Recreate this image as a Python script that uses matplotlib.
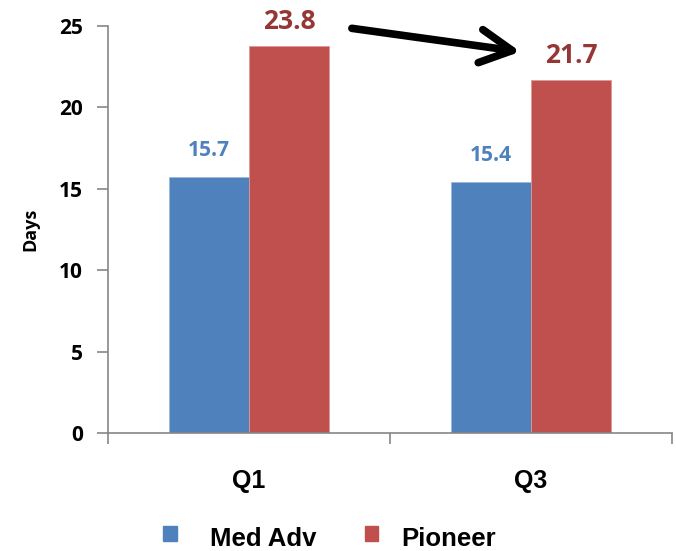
import numpy as np
import matplotlib.pyplot as plt

# quarterly average days per program
quarters = ["Q1", "Q3"]
med_adv = [15.7, 15.4]
pioneer = [23.8, 21.7]
series_names = ["Med Adv", "Pioneer"]
y_ticks = [0, 5, 10, 15, 20, 25]

blue = "#4F81BD"
red = "#C0504D"
blue_lbl = "#4F81BD"
red_lbl = "#953735"
axis_gray = "#868686"
num_font = "Open Sans"

fig = plt.figure(figsize=(6.76, 5.51), dpi=100)
ax = fig.add_axes([108 / 676, (551 - 433) / 551, (672 - 108) / 676, (433 - 26) / 551])

x = np.arange(len(quarters))
w = 80 / 282

ax.bar(x - w / 2, med_adv, w, color=blue, edgecolor="#9bb7dc", linewidth=0.6)
ax.bar(x + w / 2, pioneer, w, color=red, edgecolor="#dc9896", linewidth=0.6)

# value labels above bars
for xi, v in zip(x, med_adv):
    ax.text(xi - w / 2, v + 1.0, f"{v:.1f}", ha="center", va="bottom",
            color=blue_lbl, fontsize=15, fontweight="bold", family=num_font)
for xi, v in zip(x, pioneer):
    ax.text(xi + w / 2, v + 0.65, f"{v:.1f}", ha="center", va="bottom",
            color=red_lbl, fontsize=19, fontweight="bold", family=num_font)

ax.set_xlim(-0.5, len(quarters) - 0.5)
ax.set_ylim(0, 25)
ax.set_yticks(y_ticks)
ax.set_yticklabels([str(t) for t in y_ticks], fontsize=15, fontweight="bold", family=num_font)
ax.set_ylabel("Days", fontsize=13, fontweight="bold", family=num_font, labelpad=14)

# category boundaries carry the ticks, labels sit in the middle
ax.set_xticks(np.arange(len(quarters) + 1) - 0.5)
ax.set_xticklabels([])
ax.set_xticks(x, minor=True)
ax.set_xticklabels(quarters, minor=True, fontsize=18, fontweight="bold",
                   family="Liberation Sans")
ax.tick_params(axis="x", which="minor", length=0, pad=26)
ax.tick_params(axis="x", which="major", length=8, color=axis_gray, width=1.2)
ax.tick_params(axis="y", length=8, color=axis_gray, width=1.2, pad=10)

for s in ["top", "right"]:
    ax.spines[s].set_visible(False)
for s in ["left", "bottom"]:
    ax.spines[s].set_color(axis_gray)
    ax.spines[s].set_linewidth(1.2)

# arrow showing the drop from Q1 to Q3
ax.annotate("", xy=(0.972, 23.4), xytext=(0.355, 24.88),
            arrowprops=dict(arrowstyle="->, head_length=1.15, head_width=0.6",
                            mutation_scale=20, lw=5.5, color="black",
                            capstyle="round", joinstyle="round"),
            annotation_clip=False)

# legend drawn along the bottom edge
fig.patches.append(plt.Rectangle((163 / 676, 1 - 541 / 551), 14 / 676, 15 / 551,
                                 transform=fig.transFigure, color=blue))
fig.patches.append(plt.Rectangle((365 / 676, 1 - 541 / 551), 13 / 676, 15 / 551,
                                 transform=fig.transFigure, color=red))
fig.text(210 / 676, 1 - 527 / 551, series_names[0], ha="left", va="top",
         fontsize=18.5, fontweight="bold", family="Liberation Sans")
fig.text(401 / 676, 1 - 527 / 551, series_names[1], ha="left", va="top",
         fontsize=18.5, fontweight="bold", family="Liberation Sans")

fig.savefig("out.png", dpi=100)
